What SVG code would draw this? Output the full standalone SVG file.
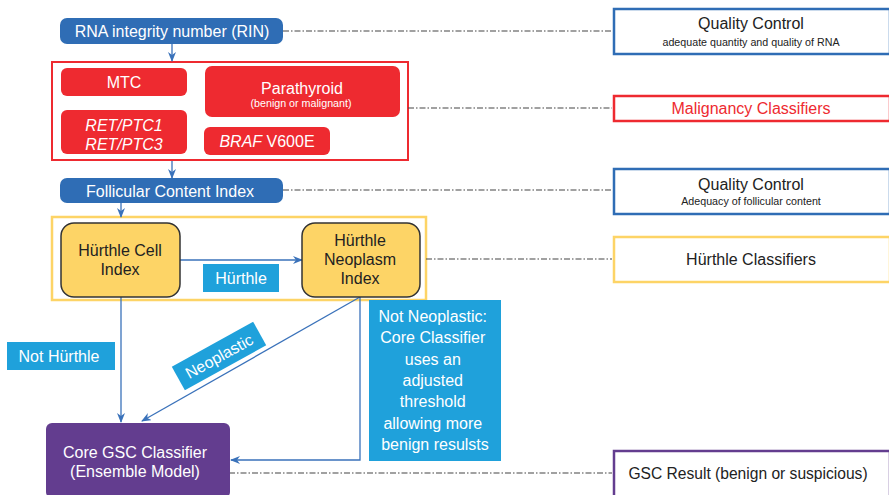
<svg xmlns="http://www.w3.org/2000/svg" width="889" height="495" viewBox="0 0 889 495">
<style>
text{font-family:"Liberation Sans",Arial,sans-serif;text-anchor:middle;font-size:16px}
.w{fill:#fff}
.k{fill:#222}
.sm{font-size:10.7px}
.blue{fill:#2f6db5}
.red{fill:#ee2a30}
.cyan{fill:#1fa1db}
.yel{fill:#fdd466;stroke:#333;stroke-width:1.5}
.dd{stroke:#444;stroke-width:1.2;stroke-dasharray:6,2,1.5,2;fill:none}
.ar{stroke:#3a72ba;stroke-width:1.3;fill:none;marker-end:url(#ah)}
.side{fill:#fff;stroke-width:2.5}
</style>
<defs>
<marker id="ah" viewBox="0 0 10 8" refX="9" refY="4" markerWidth="10" markerHeight="8" markerUnits="userSpaceOnUse" orient="auto">
<path d="M0,0 L10,4 L0,8 L3,4 z" fill="#3a72ba"/>
</marker>
</defs>
<rect width="889" height="495" fill="#fff"/>
<g id="malignancy-group">
<rect x="52" y="62" width="356" height="98" fill="none" stroke="#ee2a30" stroke-width="2"/>
</g>
<g id="hurthle-group">
<rect x="52" y="217" width="374" height="83" fill="none" stroke="#fdd466" stroke-width="2.5"/>
</g>
<g id="connectors">
<path class="dd" d="M283,31 H612"/>
<path class="dd" d="M408,108 H612"/>
<path class="dd" d="M283,190 H612"/>
<path class="dd" d="M426,259 H612"/>
<path class="dd" d="M229,473 H612"/>
<path class="ar" d="M172,44 V61"/>
<path class="ar" d="M172,161 V178"/>
<path class="ar" d="M121,203 V217"/>
<path class="ar" d="M180,260 H302"/>
<path class="ar" d="M121,297 V422"/>
<path class="ar" d="M360,297 L142,421"/>
<path class="ar" d="M360,297 V460 H231"/>
</g>
<g id="rin">
<rect class="blue" x="60" y="18" width="223" height="26" rx="7"/>
<text class="w" x="172" y="37">RNA integrity number (RIN)</text>
</g>
<g id="mtc">
<rect class="red" x="61" y="68" width="126" height="28" rx="6"/>
<text class="w" x="124" y="88">MTC</text>
</g>
<g id="parathyroid">
<rect class="red" x="205" y="66" width="195" height="51" rx="7"/>
<text class="w" x="302" y="94">Parathyroid</text>
<text class="w sm" x="301" y="107">(benign or malignant)</text>
</g>
<g id="ret">
<rect class="red" x="61" y="110" width="126" height="44" rx="6"/>
<text class="w" x="124" y="131" font-style="italic">RET/PTC1</text>
<text class="w" x="124" y="150" font-style="italic">RET/PTC3</text>
</g>
<g id="braf">
<rect class="red" x="204" y="127" width="126" height="28" rx="6"/>
<text class="w" x="267" y="147"><tspan font-style="italic">BRAF</tspan> V600E</text>
</g>
<g id="fci">
<rect class="blue" x="60" y="178" width="223" height="25" rx="7"/>
<text class="w" x="170" y="196.5">Follicular Content Index</text>
</g>
<g id="hci">
<rect class="yel" x="61" y="223" width="119" height="74" rx="13"/>
<text class="k" x="120" y="255.5">Hürthle Cell</text>
<text class="k" x="120" y="274.5">Index</text>
</g>
<g id="hni">
<rect class="yel" x="302" y="223" width="118" height="74" rx="13"/>
<text class="k" x="360" y="245.5">Hürthle</text>
<text class="k" x="360" y="264.5">Neoplasm</text>
<text class="k" x="360" y="283.5">Index</text>
</g>
<g id="lbl-hurthle">
<rect class="cyan" x="203" y="264" width="76" height="28"/>
<text class="w" x="241" y="284">Hürthle</text>
</g>
<g id="lbl-not-hurthle">
<rect class="cyan" x="7" y="342" width="108" height="28"/>
<text class="w" x="59" y="362">Not Hürthle</text>
</g>
<g id="lbl-neoplastic" transform="translate(219,356) rotate(-29)">
<rect class="cyan" x="-46.5" y="-13.5" width="93" height="27"/>
<text class="w" x="0" y="6">Neoplastic</text>
</g>
<g id="lbl-not-neoplastic">
<rect class="cyan" x="369" y="300" width="132" height="161"/>
<text class="w">
<tspan x="435" y="322">Not Neoplastic:</tspan>
<tspan x="435" y="343">Core Classifier</tspan>
<tspan x="435" y="364.5">uses an</tspan>
<tspan x="435" y="386">adjusted</tspan>
<tspan x="435" y="407">threshold</tspan>
<tspan x="435" y="428.5">allowing more</tspan>
<tspan x="435" y="449.5">benign resulsts</tspan>
</text>
</g>
<g id="core-gsc">
<rect x="46" y="423" width="184" height="75" rx="6" fill="#633d8f"/>
<text class="w" x="135" y="458">Core GSC Classifier</text>
<text class="w" x="135" y="477">(Ensemble Model)</text>
</g>
<g id="qc1">
<rect class="side" x="614" y="9" width="276" height="45" stroke="#2f6db5"/>
<text class="k" x="751" y="29">Quality Control</text>
<text class="k sm" x="751" y="45.5">adequate quantity and quality of RNA</text>
</g>
<g id="malig-class">
<rect class="side" x="614" y="96" width="276" height="25" stroke="#ee2a30"/>
<text x="751" y="114" fill="#ee2a30">Malignancy Classifiers</text>
</g>
<g id="qc2">
<rect class="side" x="614" y="169" width="276" height="45" stroke="#2f6db5"/>
<text class="k" x="751" y="189.5">Quality Control</text>
<text class="k sm" x="751" y="205">Adequacy of follicular content</text>
</g>
<g id="hurthle-class">
<rect class="side" x="614" y="237" width="276" height="45" stroke="#fdd466"/>
<text class="k" x="751" y="265">Hürthle Classifiers</text>
</g>
<g id="gsc-result">
<rect class="side" x="614" y="451" width="276" height="50" stroke="#633d8f"/>
<text class="k" x="748" y="478.5" style="font-size:15.6px">GSC Result (benign or suspicious)</text>
</g>
</svg>
